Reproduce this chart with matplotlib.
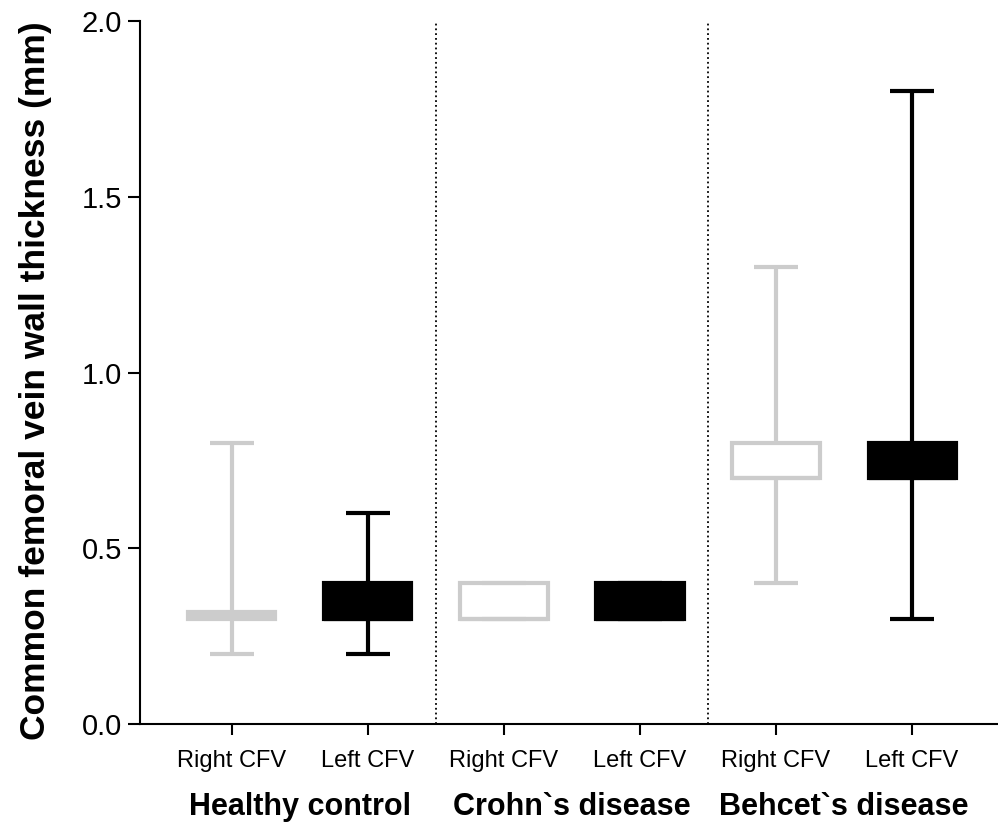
import matplotlib

matplotlib.use("Agg")
import matplotlib.pyplot as plt

plt.rcParams["font.family"] = ["Liberation Sans", "DejaVu Sans"]

# Box summaries (mm) for each vein, left to right
vein_labels = ["Right CFV", "Left CFV", "Right CFV", "Left CFV", "Right CFV", "Left CFV"]
group_labels = ["Healthy control", "Crohn`s disease", "Behcet`s disease"]
whisker_low = [0.2, 0.2, 0.3, 0.3, 0.4, 0.3]
box_q1 = [0.3, 0.3, 0.3, 0.3, 0.7, 0.7]
box_median = [0.31, 0.3, 0.3, 0.3, 0.7, 0.7]
box_q3 = [0.32, 0.4, 0.4, 0.4, 0.8, 0.8]
whisker_high = [0.8, 0.6, 0.4, 0.4, 1.3, 1.8]

GREY = "#cccccc"
BLACK = "#000000"

fig = plt.figure(figsize=(9.98, 8.26), dpi=100)
ax = fig.add_axes((140 / 998, 102 / 826, 858 / 998, 703 / 826))

positions = list(range(len(vein_labels)))

for idx, pos in enumerate(positions):
    is_right = idx % 2 == 0
    colour = GREY if is_right else BLACK
    stats = [{
        "whislo": whisker_low[idx],
        "q1": box_q1[idx],
        "med": box_median[idx],
        "q3": box_q3[idx],
        "whishi": whisker_high[idx],
        "fliers": [],
    }]
    ax.bxp(
        stats,
        positions=[pos],
        widths=0.64,
        capwidths=0.32,
        patch_artist=True,
        showfliers=False,
        boxprops={
            "facecolor": "white" if is_right else BLACK,
            "edgecolor": colour,
            "linewidth": 3.0,
        },
        whiskerprops={"color": colour, "linewidth": 3.0, "solid_capstyle": "butt"},
        capprops={"color": colour, "linewidth": 3.0, "solid_capstyle": "butt"},
        medianprops={"color": colour, "linewidth": 3.0},
        manage_ticks=False,
        zorder=3,
    )

# dotted separators between the disease groups
for sep in (1.5, 3.5):
    ax.axvline(sep, color="black", linestyle=":", linewidth=1.3, zorder=1)

ax.set_xlim(-0.676, 5.632)
ax.set_ylim(0, 2.0)
ax.set_yticks([0.0, 0.5, 1.0, 1.5, 2.0])
ax.set_yticklabels(["0.0", "0.5", "1.0", "1.5", "2.0"])
ax.set_xticks(positions)
ax.set_xticklabels(vein_labels, fontsize=17)

ax.spines["top"].set_visible(False)
ax.spines["right"].set_visible(False)
for side in ("left", "bottom"):
    ax.spines[side].set_linewidth(1.5)

ax.tick_params(axis="y", length=9, width=1.5, pad=4, labelsize=21)
ax.tick_params(axis="x", length=8, width=1.5, pad=11)

ax.set_ylabel("Common femoral vein wall thickness (mm)", fontsize=25.5, fontweight="bold")
ax.yaxis.set_label_coords(-0.102, 0.489)

for g, name in enumerate(group_labels):
    ax.text(
        2 * g + 0.5,
        -0.118,
        name,
        transform=ax.get_xaxis_transform(),
        ha="center",
        va="center",
        fontsize=22,
        fontweight="bold",
    )

fig.savefig("out.png", dpi=100)
